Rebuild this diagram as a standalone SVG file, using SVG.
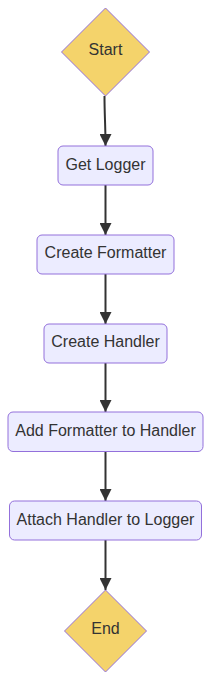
<svg xmlns="http://www.w3.org/2000/svg" width="211" height="681" viewBox="0 0 211 681">
<style>
.box{fill:#ECECFF;stroke:#9370DB;stroke-width:1}
.dia{fill:#F4D36B;stroke:#9370DB;stroke-width:1}
.lbl{font-family:"Liberation Sans",Arial,sans-serif;font-size:16px;fill:#333;text-anchor:middle;dominant-baseline:central}
.edge{fill:none;stroke:#333;stroke-width:2}
</style>
<defs>
<marker id="arr" viewBox="0 0 10 10" refX="10" refY="5" markerWidth="6" markerHeight="6" markerUnits="strokeWidth" orient="auto">
<path d="M0,0 L10,5 L0,10 z" fill="#333"/>
</marker>
</defs>
<rect width="211" height="681" fill="#fff"/>
<g id="connectors">
<path class="edge" d="M104.5,96 C104.5,115 105.5,125 105.5,146" marker-end="url(#arr)"/>
<path class="edge" d="M105.5,185 L105.5,235" marker-end="url(#arr)"/>
<path class="edge" d="M105.5,274 L105.5,324" marker-end="url(#arr)"/>
<path class="edge" d="M105.5,363 L105.5,412" marker-end="url(#arr)"/>
<path class="edge" d="M105.5,452 L105.5,501" marker-end="url(#arr)"/>
<path class="edge" d="M105.5,540 C105.5,560 105.5,570 105.5,590" marker-end="url(#arr)"/>
</g>
<g id="start">
<polygon class="dia" points="105.5,8 149.5,52 105.5,96 61.5,52"/>
<text class="lbl" x="105.5" y="49">Start</text>
</g>
<g id="getLogger">
<rect class="box" x="58" y="146" width="95" height="39" rx="5"/>
<text class="lbl" x="105.5" y="164">Get Logger</text>
</g>
<g id="createFormatter">
<rect class="box" x="37" y="235" width="137" height="39" rx="5"/>
<text class="lbl" x="105.5" y="252">Create Formatter</text>
</g>
<g id="createHandler">
<rect class="box" x="44" y="324" width="123" height="39" rx="5"/>
<text class="lbl" x="105.5" y="341">Create Handler</text>
</g>
<g id="addFormatter">
<rect class="box" x="8" y="412" width="195" height="39.5" rx="5"/>
<text class="lbl" x="105.5" y="430">Add Formatter to Handler</text>
</g>
<g id="attachHandler">
<rect class="box" x="9.5" y="501" width="192" height="39" rx="5"/>
<text class="lbl" x="105.5" y="519">Attach Handler to Logger</text>
</g>
<g id="end">
<polygon class="dia" points="105.5,590 146.5,631 105.5,672 64.5,631"/>
<text class="lbl" x="105.5" y="628">End</text>
</g>
</svg>
